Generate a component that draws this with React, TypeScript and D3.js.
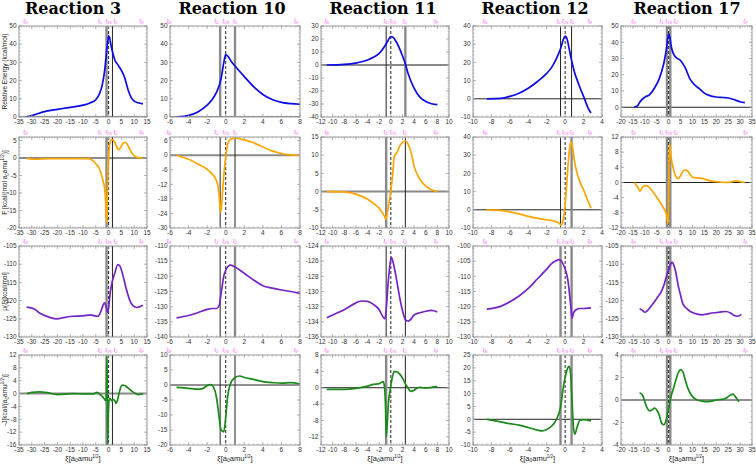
import React from 'react';
import * as d3 from 'd3';

type Pt = [number, number];

const reactions = ['Reaction 3', 'Reaction 10', 'Reaction 11', 'Reaction 12', 'Reaction 17'];

// x axes per reaction (column)
const xDomains: Pt[] = [[-35, 15], [-6, 8], [-12, 10], [-10, 4], [-20, 35]];
const xSteps = [5, 2, 2, 2, 5];

// y axes per row (energy, force, chemical potential, flux) and column
const yDomains: Pt[][] = [
  [[0, 50], [0, 50], [-40, 30], [-10, 40], [-6, 50]],
  [[-20, 6], [-30, 7.5], [-10, 15], [-10, 40], [-12, 12]],
  [[-130, -105], [-140, -110], [-136, -124], [-130, -100], [-130, -105]],
  [[-16, 12], [-20, 10], [-14, 8], [-10, 25], [-4, 4]],
];
const ySteps = [
  [10, 10, 10, 10, 10],
  [5, 6, 5, 10, 4],
  [5, 5, 2, 5, 5],
  [4, 5, 4, 5, 2],
];

// reaction-region boundaries (xi_1, xi_2), TS at 0
const regionLines: Pt[] = [[-0.8, 1.5], [-0.6, 1.0], [-0.8, 2.5], [-0.5, 0.7], [-0.7, 0.7]];
// positions of the magenta markers along xi
const markerPos = [
  [-32.4, -3.4, 0, 2.7, 12.8],
  [-6.1, -1.0, 0, 1.0, 7.6],
  [-11, -0.9, 0.35, 2.4, 7.8],
  [-8.7, -0.7, 0, 0.75, 2.7],
  [-14.7, -3.0, 0, 3.0, 32.2],
];
const markerSubs = ['R', '1', 'TS', '2', 'P'];

// Reaction 3
const r3Energy: Pt[] = [[-32.6, 0], [-30, 0.8], [-25.5, 2.8], [-20, 4.2], [-16.4, 5], [-10, 6.5], [-7.3, 7.7], [-5, 9.5], [-3.5, 13], [-2.5, 17.5], [-1.5, 26], [-0.8, 36], [-0.3, 42], [0, 44.6], [0.4, 43.5], [1, 39], [1.5, 36], [2.4, 31.5], [3.7, 28.5], [5.4, 24.5], [6.3, 21.5], [7.6, 15], [8.9, 10.5], [10, 8.7], [11.5, 7.8], [13.4, 7.2]];
const r3Force: Pt[] = [[-32, -0.1], [-28, -0.35], [-24, -0.2], [-15, -0.2], [-8, -0.2], [-6, -0.8], [-4.7, -1.9], [-3.5, -3.2], [-2.8, -4.8], [-2, -7], [-1.5, -9], [-1.1, -13], [-0.85, -18.5], [-0.7, -17], [-0.4, -8], [0, 0], [0.4, 4], [1, 5.2], [1.7, 5.2], [2.6, 4.2], [3.4, 2.8], [4, 2.4], [4.8, 3.1], [5.6, 4.2], [6.4, 4.5], [7.2, 4], [8.3, 2.4], [9.5, 1], [10.8, 0.3], [12, 0.05], [13.4, 0]];
const r3Chem: Pt[] = [[-32, -121.8], [-29, -122.3], [-26.8, -123.5], [-23, -124.6], [-20.3, -125], [-17, -124.6], [-14, -124.3], [-10, -124.2], [-7, -123.9], [-5.5, -124.2], [-4.2, -124.3], [-3.2, -123.3], [-2.3, -121.5], [-1.6, -120.6], [-1, -121.6], [-0.5, -123.2], [0, -122], [0.6, -118], [1.2, -115.5], [2.4, -112.5], [3.6, -110.1], [4.5, -110.6], [5.5, -112.8], [6.9, -116.8], [8.2, -119.8], [9.5, -121.4], [11, -121.9], [13.4, -121.3]];
const r3Flux: Pt[] = [[-32, 0], [-30, 0.4], [-27, 0.5], [-24, 0.3], [-20, -0.3], [-17, -0.2], [-14, 0], [-10, -0.1], [-6, -0.1], [-4.6, 0.4], [-3, -0.5], [-1.8, -1.5], [-1.2, -2.2], [-0.9, -1], [-0.7, 11.5], [-0.5, 0], [-0.35, -16], [-0.1, -6], [0.3, -1.5], [0.8, -1.8], [1.3, -2.3], [1.8, -1.8], [2.4, -2.2], [2.9, -3.1], [3.5, -2], [4.3, 0.8], [5.3, 2.6], [6.3, 2.5], [7.5, 1.8], [9, 0.8], [10.5, 0], [11.5, -0.3], [12.5, -0.2], [13.4, 0]];

// Reaction 10
const r10Energy: Pt[] = [[-5.3, 0], [-4.5, 0.4], [-4, 0.9], [-3, 2.8], [-2, 6.5], [-1.5, 9.3], [-1, 13.5], [-0.5, 21], [-0.2, 30], [0, 34.3], [0.3, 33], [0.6, 30.5], [1, 28], [2, 22.2], [3, 16.7], [4, 12.4], [5, 9.6], [6, 8], [7, 7.3], [8, 7]];
const r10Force: Pt[] = [[-5.3, 0], [-4, -1.7], [-3, -3.6], [-2, -5.8], [-1.5, -7.6], [-1, -10.5], [-0.8, -13.5], [-0.65, -19], [-0.55, -23.5], [-0.45, -21], [-0.3, -13], [-0.15, -6], [0, -0.7], [0.2, 4.5], [0.5, 6.5], [1, 7], [2, 6.3], [3, 5.1], [4, 3.4], [5, 1.8], [6, 0.7], [7, 0.1], [8, 0]];
const r10Chem: Pt[] = [[-5.3, -133.7], [-4, -132.9], [-3, -132], [-2, -130.9], [-1.5, -130.6], [-1, -130.6], [-0.7, -129.6], [-0.5, -125.8], [-0.2, -119.8], [0, -118], [0.5, -116.3], [1, -116.9], [2, -119], [3, -121.2], [4, -123.1], [5, -123.9], [6, -124.5], [7, -125], [8, -125.6]];
const r10Flux: Pt[] = [[-5.3, -0.8], [-4, -1.1], [-3, -1.4], [-2.5, -1.2], [-2, -0.2], [-1.6, 0.1], [-1.3, -0.8], [-1, -4], [-0.8, -8.5], [-0.5, -15], [-0.2, -15.6], [0, -10.7], [0.2, -4], [0.5, 0.3], [1, 2.5], [1.5, 3], [2, 2.5], [3, 1.9], [4, 1.1], [5, 0.8], [6, 0.6], [7, 0.8], [8, 0.3]];

// Reaction 11
const r11Energy: Pt[] = [[-11, 0], [-8, 0.5], [-6, 1.5], [-4, 3.8], [-3, 5.9], [-2, 8.9], [-1, 14.8], [-0.5, 18.6], [0, 21.9], [0.3, 21.6], [1, 17.3], [2, 7.1], [2.5, 0.8], [3, -6.9], [4, -17.8], [5, -24.7], [6, -28], [7, -29.8], [8, -30.5]];
const r11Force: Pt[] = [[-11, 0], [-8, -0.1], [-6, -0.7], [-4, -2.1], [-3, -3.2], [-2, -4.6], [-1.5, -5.7], [-1, -7.1], [-0.85, -7.7], [-0.6, -5.7], [-0.3, -3], [0, 0.2], [0.3, 4.3], [0.6, 9.7], [1, 10.6], [1.5, 12.4], [2, 13.5], [2.5, 13.9], [3, 12.9], [3.5, 10.6], [4, 7], [5, 3.4], [6, 1.5], [7, 0.5], [8, 0]];
const r11Chem: Pt[] = [[-11, -133.45], [-10, -133.1], [-8, -132.4], [-6, -131.5], [-5, -131.25], [-4, -131.3], [-3, -131.7], [-2, -132.4], [-1.3, -133.4], [-1, -133.6], [-0.7, -131.5], [-0.5, -129.2], [-0.2, -126.8], [0.1, -125.5], [0.5, -126.5], [1, -128.5], [1.5, -130.7], [2, -132.5], [2.5, -133.7], [3, -133.9], [3.5, -133.6], [4, -133.1], [5, -132.8], [6, -132.6], [7, -132.5], [8, -132.7]];
const r11Flux: Pt[] = [[-11, -0.4], [-8, -0.4], [-6, -0.15], [-4, 0.4], [-3, 0.8], [-2, 1], [-1.3, 1.5], [-1.1, 0.4], [-0.9, -5.2], [-0.8, -12], [-0.6, -8.4], [-0.4, -3.6], [-0.1, -0.4], [0.3, 2.8], [0.6, 4], [1, 3.9], [1.5, 3.4], [2, 2.4], [2.5, 1], [3, -0.2], [3.5, -0.9], [4, -0.6], [4.5, -0.1], [5, 0.1], [6, -0.1], [7, 0.1], [8, 0.25]];

// Reaction 12
const r12Energy: Pt[] = [[-8.5, 0], [-7, 0.2], [-6, 1.3], [-5, 3.1], [-4, 5.8], [-3, 9.5], [-2, 14], [-1.5, 17], [-1, 21.5], [-0.5, 27.5], [-0.2, 32.5], [0, 34.4], [0.2, 33], [0.4, 28.5], [0.65, 22.2], [1, 14.9], [1.5, 7.6], [2, 1.3], [2.5, -5.1], [2.8, -7.8]];
const r12Force: Pt[] = [[-8.5, 0], [-7, -0.3], [-6, -1.1], [-5, -2.2], [-4, -3.6], [-3, -4.7], [-2, -5.5], [-1.5, -5.8], [-1, -6.5], [-0.6, -7.6], [-0.45, -8.4], [-0.3, -7.3], [-0.1, -1.8], [0.1, 9], [0.3, 23.6], [0.5, 34.5], [0.65, 37.3], [0.8, 34.5], [1, 27.3], [1.3, 20], [1.6, 15.5], [2, 10.9], [2.4, 5.8], [2.8, 0.9]];
const r12Chem: Pt[] = [[-8.5, -120.8], [-7, -119.9], [-6, -118.4], [-5, -116.5], [-4, -114], [-3, -110.8], [-2, -107.6], [-1.5, -105.9], [-1, -104.9], [-0.7, -104.5], [-0.5, -104.7], [-0.2, -106.1], [0, -107.6], [0.3, -111.3], [0.6, -119.4], [0.75, -123.8], [0.9, -122.1], [1.2, -121], [1.6, -120.6], [2, -120.6], [2.5, -120.5], [2.8, -120.3]];
const r12Flux: Pt[] = [[-8.5, 0], [-7, -1], [-6, -1.7], [-5, -2.3], [-4, -3.2], [-3, -4.2], [-2.5, -4.5], [-2, -4], [-1.5, -2.7], [-1, -0.4], [-0.5, 4.7], [-0.2, 12.4], [0, 16.3], [0.3, 20.1], [0.45, 20.6], [0.6, 17.6], [0.75, 7.3], [0.9, -3], [1.05, -5.8], [1.3, -3], [1.6, -0.4], [2, -0.1], [2.5, -0.4], [2.8, -0.6]];

// Reaction 17
const r17Energy: Pt[] = [[-14.5, 0], [-13, 1], [-12, 3.4], [-10, 6.2], [-8, 7.7], [-6, 11.7], [-4, 17.3], [-2, 27.2], [-1, 35.1], [0, 45], [0.5, 43], [1, 38], [2, 33], [3, 30.8], [5, 28.8], [7, 24.2], [9, 17.3], [11, 13.7], [13, 11.3], [15, 8.7], [17, 7.3], [20, 6.3], [23, 6], [26, 5.4], [28, 4.4], [30, 3.4], [32, 2.8]];
const r17Force: Pt[] = [[-14.5, 0], [-13, -1.2], [-12, -2.3], [-11, -1.2], [-10, -0.8], [-9, -0.9], [-7, -2.1], [-5, -3.9], [-3, -5.8], [-2, -6.9], [-1, -8.3], [-0.5, -10], [-0.2, -11], [0, -2], [0.3, 10.3], [1, 6.7], [2, 3.6], [3, 1.6], [4, 1], [5, 1.8], [6, 3], [7, 3.3], [8, 3], [9, 2.1], [10, 1.4], [12, 1.2], [14, 1.1], [16, 0.7], [18, 0.35], [20, 0.2], [22, 0.1], [24, 0], [26, 0.1], [28, 0.45], [30, 0.25], [32, 0]];
const r17Chem: Pt[] = [[-12.2, -122.2], [-11, -122.7], [-10, -123.2], [-9, -122.8], [-7, -121.2], [-5, -119.4], [-3, -117.4], [-2, -115.8], [-1, -113.5], [0, -111.6], [1, -109.8], [1.5, -109.5], [2, -110], [3, -112.2], [4, -115.8], [5, -118.5], [6, -120.9], [8, -122.4], [10, -123.3], [12, -123.7], [14, -123.9], [16, -123.7], [18, -123.4], [20, -123.3], [22, -123.1], [24, -123], [26, -123.4], [27.5, -124.1], [29, -124.3], [30.5, -123.8]];
const r17Flux: Pt[] = [[-12.2, 0.65], [-11, 0.44], [-10, -0.15], [-9, -0.73], [-8, -0.96], [-7, -0.88], [-6, -0.73], [-5, -0.88], [-4, -1.3], [-3, -2.04], [-2, -2.2], [-1, -1.75], [0, -0.73], [1, 0.3], [2, 1], [3, 1.75], [4, 2.4], [5, 2.7], [6, 2.5], [7, 1.75], [8, 1.08], [10, 0.3], [12, 0], [14, -0.1], [16, -0.15], [18, -0.1], [20, 0], [22, 0.05], [24, 0.15], [26, 0.45], [27, 0.52], [28, 0.3], [29.5, -0.15]];

const series: Pt[][][] = [
  [r3Energy, r10Energy, r11Energy, r12Energy, r17Energy],
  [r3Force, r10Force, r11Force, r12Force, r17Force],
  [r3Chem, r10Chem, r11Chem, r12Chem, r17Chem],
  [r3Flux, r10Flux, r11Flux, r12Flux, r17Flux],
];
const rowColors = ['#0c0ce6', '#ffa500', '#7424c8', '#1a8a1a'];

// styling of region lines: true = thick grey, false = thin black
const lineGrey: [boolean, boolean][][] = [
  [[true, false], [true, true], [false, true], [false, false], [true, true]],
  [[true, false], [false, false], [true, false], [false, true], [true, true]],
  [[true, false], [false, true], [false, false], [true, true], [true, true]],
  [[true, false], [false, false], [true, false], [true, true], [true, true]],
];
const zeroGrey = [
  [true, false, true, false, false],
  [true, true, true, false, false],
  [true, false, false, false, false],
  [true, false, false, false, false],
];

// layout
const colX: Pt[] = [[19, 147], [170, 300], [321, 449], [473, 602], [621, 752]];
const rowY: Pt[] = [[26, 117], [137, 228], [246, 337], [355, 445]];
const titleCX = [73, 232, 383, 535, 687];

const tickFont = '"Liberation Sans", Arial, sans-serif';

function minorCount(step: number) {
  if (step === 2 || step === 4) return 4;
  if (step === 6) return 6;
  return 5;
}
function tickRange(d: Pt, step: number) {
  const s = Math.ceil(d[0] / step - 1e-9) * step;
  return d3.range(s, d[1] + 1e-9, step);
}

function Panel({ row, col }: { row: number; col: number }) {
  const [x0, x1] = colX[col];
  const [y0, y1] = rowY[row];
  const xs = d3.scaleLinear().domain(xDomains[col]).range([x0, x1]);
  const ys = d3.scaleLinear().domain(yDomains[row][col]).range([y1, y0]);
  const xStep = xSteps[col];
  const yStep = ySteps[row][col];
  const xt = tickRange(xDomains[col], xStep);
  const yt = tickRange(yDomains[row][col], yStep);
  const xm = tickRange(xDomains[col], xStep / minorCount(xStep));
  const ym = tickRange(yDomains[row][col], yStep / minorCount(yStep));
  const line = d3
    .line<Pt>()
    .x((d) => xs(d[0]))
    .y((d) => ys(d[1]))
    .curve(d3.curveMonotoneX);
  const clipId = `clip-${row}-${col}`;
  const yd = yDomains[row][col];
  const hasZero = yd[0] <= 0 && yd[1] >= 0;
  const [lg, rg] = lineGrey[row][col];
  const vStyle = (g: boolean) => (g ? { stroke: '#8a8a8a', strokeWidth: 2.4 } : { stroke: '#222', strokeWidth: 1 });
  return (
    <g>
      <defs>
        <clipPath id={clipId}>
          <rect x={x0} y={y0} width={x1 - x0} height={y1 - y0} />
        </clipPath>
      </defs>
      <g clipPath={`url(#${clipId})`}>
        {hasZero && (
          <line
            x1={x0}
            x2={x1}
            y1={ys(0)}
            y2={ys(0)}
            stroke={zeroGrey[row][col] ? '#8a8a8a' : '#222'}
            strokeWidth={zeroGrey[row][col] ? 2 : 1}
          />
        )}
        <line x1={xs(regionLines[col][0])} x2={xs(regionLines[col][0])} y1={y0} y2={y1} {...vStyle(lg)} />
        <line x1={xs(regionLines[col][1])} x2={xs(regionLines[col][1])} y1={y0} y2={y1} {...vStyle(rg)} />
        <line x1={xs(0)} x2={xs(0)} y1={y0} y2={y1} stroke="#222" strokeWidth={1} strokeDasharray="3,2" />
        <path d={line(series[row][col]) || ''} fill="none" stroke={rowColors[row]} strokeWidth={1.7} strokeLinejoin="round" />
      </g>
      <rect x={x0} y={y0} width={x1 - x0} height={y1 - y0} fill="none" stroke="#9a9a9a" strokeWidth={1} />
      {xm.map((v, i) => (
        <g key={'xm' + i} stroke="#9a9a9a" strokeWidth={0.6}>
          <line x1={xs(v)} x2={xs(v)} y1={y1} y2={y1 - 1.5} />
          <line x1={xs(v)} x2={xs(v)} y1={y0} y2={y0 + 1.5} />
        </g>
      ))}
      {ym.map((v, i) => (
        <g key={'ym' + i} stroke="#9a9a9a" strokeWidth={0.6}>
          <line x1={x0} x2={x0 + 1.5} y1={ys(v)} y2={ys(v)} />
          <line x1={x1} x2={x1 - 1.5} y1={ys(v)} y2={ys(v)} />
        </g>
      ))}
      {xt.map((v, i) => (
        <g key={'xt' + i}>
          <line x1={xs(v)} x2={xs(v)} y1={y1} y2={y1 - 3} stroke="#9a9a9a" strokeWidth={0.7} />
          <line x1={xs(v)} x2={xs(v)} y1={y0} y2={y0 + 3} stroke="#9a9a9a" strokeWidth={0.7} />
          <text x={xs(v)} y={y1 + 6.8} fontSize={6.5} textAnchor="middle" fill="#333" fontFamily={tickFont}>
            {v}
          </text>
        </g>
      ))}
      {yt.map((v, i) => (
        <g key={'yt' + i}>
          <line x1={x0} x2={x0 + 3} y1={ys(v)} y2={ys(v)} stroke="#9a9a9a" strokeWidth={0.7} />
          <line x1={x1} x2={x1 - 3} y1={ys(v)} y2={ys(v)} stroke="#9a9a9a" strokeWidth={0.7} />
          <text x={x0 - 2.5} y={ys(v)} dy="0.35em" fontSize={6.5} textAnchor="end" fill="#333" fontFamily={tickFont}>
            {v}
          </text>
        </g>
      ))}
      {markerPos[col].map((v, i) => (
        <g key={'mk' + i}>
          <text x={xs(v)} y={y0 - 3.5} fontSize={5} textAnchor="middle" fill="#ff4cff" fontFamily={tickFont}>
            ξ<tspan fontSize={3.2} dy={1}>{markerSubs[i]}</tspan>
          </text>
        </g>
      ))}
    </g>
  );
}

const yTitles = [
  <>Relative Energy (kcal/mol)</>,
  <>
    F [kcal/(mol a<tspan fontSize={4.5} dy={1.5}>0</tspan>
    <tspan dy={-1.5}>amu</tspan>
    <tspan fontSize={4.5} dy={-3}>1/2</tspan>
    <tspan dy={3}>)]</tspan>
  </>,
  <>μ(ξ)[kcal/mol]</>,
  <>
    -J[kcal/(a<tspan fontSize={4.5} dy={1.5}>0</tspan>
    <tspan dy={-1.5}>amu</tspan>
    <tspan fontSize={4.5} dy={-3}>1/2</tspan>
    <tspan dy={3}>)]</tspan>
  </>,
];

export default function App() {
  return (
    <svg
      width={756}
      height={464}
      style={{ position: 'absolute', left: 0, top: 0, background: '#fff' }}
      xmlns="http://www.w3.org/2000/svg"
    >
      <rect width={756} height={464} fill="#fff" />
      {reactions.map((r, c) => (
        <text
          key={r}
          x={titleCX[c]}
          y={14}
          textAnchor="middle"
          fontFamily='"DejaVu Serif", serif'
          fontWeight="bold"
          fontSize={16}
          fill="#000"
        >
          {r}
        </text>
      ))}
      {rowY.map((_, r) =>
        colX.map((__, c) => <Panel key={`${r}-${c}`} row={r} col={c} />)
      )}
      {rowY.map(([a, b], r) => (
        <text
          key={'yt' + r}
          transform={`translate(7,${(a + b) / 2}) rotate(-90)`}
          textAnchor="middle"
          fontSize={6.5}
          fill="#222"
          fontFamily={tickFont}
        >
          {yTitles[r]}
        </text>
      ))}
      {colX.map(([a, b], c) => (
        <text key={'xl' + c} x={(a + b) / 2} y={461} textAnchor="middle" fontSize={7.5} fill="#222" fontFamily={tickFont}>
          ξ[a<tspan fontSize={5} dy={1.3}>0</tspan>
          <tspan dy={-1.3}>amu</tspan>
          <tspan fontSize={4.5} dy={-2.8}>1/2</tspan>
          <tspan dy={2.8}>]</tspan>
        </text>
      ))}
    </svg>
  );
}
